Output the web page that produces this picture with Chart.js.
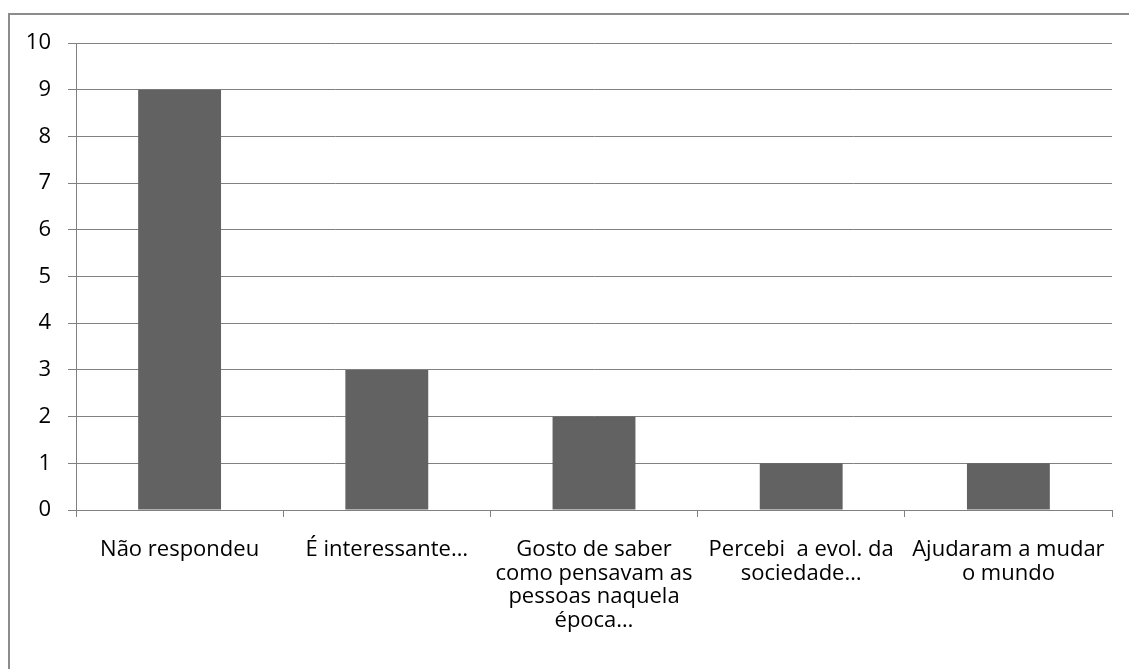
<!DOCTYPE html>
<html>
<head>
<meta charset="utf-8">
<script src="https://cdn.jsdelivr.net/npm/chart.js@4.4.0/dist/chart.umd.min.js"></script>
<style>
  html, body { margin: 0; padding: 0; background: #fff; }
  #frame {
    position: absolute; left: 8px; top: 13px; width: 1200px; height: 700px;
    border-top: 2px solid #8c8c8c; border-left: 2px solid #8c8c8c;
  }
  #wrap { position: absolute; left: 0; top: 0; width: 1129px; height: 669px; }
</style>
</head>
<body>
<div id="frame"></div>
<div id="wrap"><canvas id="bar-chart"></canvas></div>
<script>
// respostas (categorias) e contagem de alunos
const categorias = [
    'Não respondeu',
    'É interessante…',
    ['Gosto de saber', 'como pensavam as', 'pessoas naquela', 'época…'],
    ['Percebi  a evol. da', 'sociedade…'],
    ['Ajudaram a mudar', 'o mundo']
];
const respostas = [9, 3, 2, 1, 1];
const yTicks = [0, 1, 2, 3, 4, 5, 6, 7, 8, 9, 10];

document.addEventListener('DOMContentLoaded', function() {
    const ctx = document.getElementById('bar-chart').getContext('2d');
    const fonte = { family: "'Open Sans', sans-serif", size: 22, lineHeight: '23.5px' };

    new Chart(ctx, {
        type: 'bar',
        data: {
            labels: categorias,
            datasets: [{
                data: respostas,
                backgroundColor: '#626262',
                borderWidth: 0,
                categoryPercentage: 0.8,
                barPercentage: 0.5
            }]
        },
        options: {
            responsive: true,
            maintainAspectRatio: false,
            animation: false,
            layout: { padding: { left: 0, right: 17, top: 43, bottom: 0 } },
            plugins: { legend: { display: false }, tooltip: { enabled: false } },
            scales: {
                x: {
                    offset: true,
                    grid: {
                        offset: true,
                        drawOnChartArea: false,
                        drawTicks: true,
                        tickLength: 7,
                        color: '#808080',
                        lineWidth: 1
                    },
                    border: { color: '#808080', width: 1 },
                    ticks: {
                        color: '#000',
                        font: fonte,
                        padding: 21,
                        maxRotation: 0,
                        autoSkip: false
                    },
                    afterFit: function(scale) { scale.height = 159; }
                },
                y: {
                    min: 0,
                    max: 10,
                    afterBuildTicks: function(scale) {
                        scale.ticks = yTicks.map(v => ({ value: v }));
                    },
                    grid: {
                        color: '#808080',
                        lineWidth: 1,
                        drawTicks: true,
                        tickLength: 8
                    },
                    border: { color: '#808080', width: 1 },
                    ticks: {
                        color: '#000',
                        font: fonte,
                        padding: 17
                    },
                    afterFit: function(scale) { scale.width = 76; }
                }
            }
        }
    });
});
</script>
</body>
</html>
